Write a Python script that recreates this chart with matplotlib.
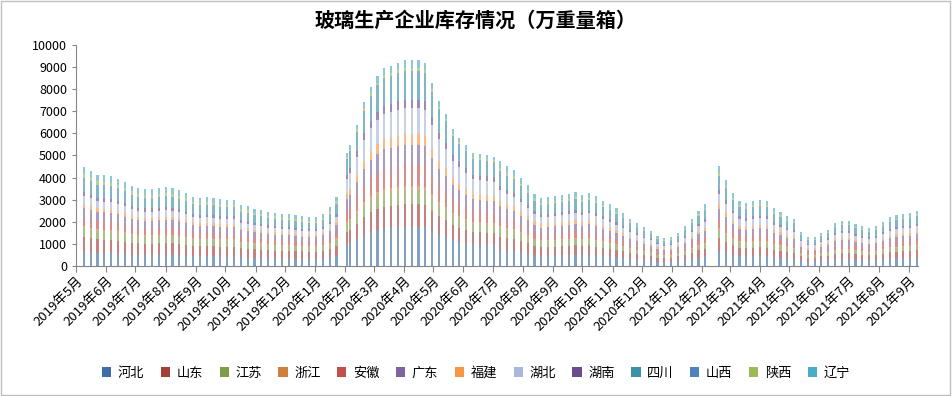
import numpy as np
import pandas as pd
import matplotlib
matplotlib.use("Agg")
import matplotlib.pyplot as plt
from matplotlib.patches import Patch, Rectangle

plt.rcParams['font.family'] = ['Noto Sans CJK SC', 'DejaVu Sans']

# weekly (Thursday) dates, holiday weeks missing, one extra reading after 2020 CNY
dates = pd.date_range('2019-05-09', '2021-09-09', freq='7D')
dates = dates.drop(pd.to_datetime(['2020-01-30', '2021-02-11']))
dates = dates.append(pd.DatetimeIndex(['2020-02-03'])).sort_values()

provinces = ['河北', '山东', '江苏', '浙江', '安徽', '广东', '福建',
             '湖北', '湖南', '四川', '山西', '陕西', '辽宁']
colors = ['#3E6DA8', '#A33E3B', '#7F9C47', '#D0803D', '#C0504D', '#8064A2', '#F79646',
          '#A9B8D8', '#6A4C8C', '#3A91A8', '#4F81BD', '#9BBB59', '#4BACC6']

hebei = [630, 600, 580, 570, 570, 550, 530, 510, 490, 490, 490, 490, 500, 490, 480, 460, 440, 430, 430, 430,
         420, 420, 420, 390, 380, 360, 360, 340, 340, 330, 330, 320, 320, 310, 310, 330, 370, 440,
         970, 1040, 1220, 1410, 1540, 1630, 1700, 1720, 1750, 1770, 1770, 1770, 1750, 1580, 1420, 1310, 1180, 1100,
         1040, 970, 960, 950, 940,
         710, 680, 650, 600, 550, 490, 460, 470, 470, 480, 490, 500, 480, 500, 470, 440, 420, 390, 360, 320,
         290, 260, 240, 200, 190, 200, 230, 270, 320, 380, 420,
         680, 590, 500, 440, 430, 440, 450, 440, 390, 370, 340, 320, 230, 200, 200, 230, 250, 290, 310, 310,
         290, 270, 260, 270, 300, 330, 350, 350, 360, 380]
shandong = [670, 650, 620, 620, 610, 590, 570, 540, 530, 520, 520, 530, 530, 530, 510, 490, 470, 460, 470, 460,
            450, 450, 450, 410, 410, 390, 380, 370, 360, 350, 350, 350, 340, 330, 330, 350, 400, 470,
            560, 600, 700, 810, 890, 950, 980, 1000, 1010, 1020, 1020, 1020, 1010, 910, 820, 760, 680, 640,
            600, 560, 560, 550, 540,
            620, 590, 570, 520, 470, 420, 400, 400, 410, 420, 420, 440, 420, 430, 410, 380, 360, 340, 310, 280,
            250, 230, 210, 180, 160, 170, 200, 230, 280, 330, 360,
            590, 510, 430, 380, 370, 380, 390, 380, 340, 320, 290, 280, 200, 170, 170, 200, 210, 250, 270, 270,
            250, 230, 220, 230, 260, 290, 300, 310, 310, 330]
jiangsu = [400, 390, 370, 370, 360, 360, 340, 330, 320, 310, 310, 320, 320, 320, 310, 300, 280, 280, 280, 280,
           270, 270, 270, 250, 240, 230, 230, 220, 220, 210, 210, 210, 200, 200, 200, 210, 240, 280,
           360, 380, 450, 520, 570, 600, 630, 630, 640, 650, 650, 650, 640, 580, 520, 480, 430, 410,
           380, 360, 350, 350, 350,
           380, 360, 350, 320, 290, 260, 240, 250, 250, 260, 260, 270, 260, 260, 250, 240, 220, 210, 190, 170,
           160, 140, 130, 110, 100, 100, 120, 140, 170, 200, 220,
           360, 310, 260, 240, 230, 240, 240, 240, 210, 200, 180, 170, 120, 100, 100, 120, 130, 160, 160, 160,
           150, 140, 140, 140, 160, 180, 180, 190, 190, 200]
zhejiang = [90, 86, 83, 82, 81, 79, 76, 72, 70, 69, 69, 70, 71, 70, 68, 66, 63, 62, 62, 62,
            60, 60, 60, 55, 54, 52, 51, 49, 48, 47, 47, 46, 45, 44, 44, 47, 53, 63,
            102, 109, 128, 148, 162, 172, 179, 181, 184, 186, 186, 186, 184, 166, 149, 138, 124, 116,
            109, 102, 101, 100, 99,
            95, 90, 87, 80, 73, 65, 61, 62, 63, 64, 65, 67, 64, 66, 63, 59, 56, 52, 48, 43,
            39, 35, 32, 27, 25, 26, 30, 36, 43, 50, 56,
            91, 78, 66, 59, 57, 59, 60, 59, 52, 49, 45, 43, 31, 26, 26, 30, 33, 39, 41, 41,
            38, 36, 34, 36, 40, 44, 46, 47, 48, 50]
anhui = [403, 387, 372, 369, 365, 356, 342, 326, 317, 312, 312, 317, 320, 317, 308, 295, 282, 277, 279, 277,
         272, 268, 270, 248, 243, 234, 230, 221, 216, 212, 212, 207, 203, 198, 198, 212, 239, 284,
         510, 545, 640, 740, 810, 860, 895, 905, 920, 930, 930, 930, 920, 830, 745, 690, 620, 580,
         545, 510, 505, 500, 495,
         428, 405, 392, 360, 329, 293, 275, 279, 284, 288, 293, 302, 288, 297, 284, 266, 252, 234, 216, 194,
         176, 158, 144, 122, 113, 117, 135, 162, 194, 225, 252,
         410, 351, 297, 266, 257, 266, 270, 266, 234, 221, 203, 194, 140, 117, 117, 135, 149, 176, 185, 185,
         171, 162, 153, 162, 180, 198, 207, 212, 216, 225]
guangdong = [448, 430, 413, 410, 405, 395, 380, 362, 352, 347, 347, 352, 355, 352, 342, 328, 313, 308, 310, 308,
             302, 298, 300, 275, 270, 260, 255, 245, 240, 235, 235, 230, 225, 220, 220, 235, 265, 315,
             510, 545, 640, 740, 810, 860, 895, 905, 920, 930, 930, 930, 920, 830, 745, 690, 620, 580,
             545, 510, 505, 500, 495,
             475, 450, 435, 400, 365, 325, 305, 310, 315, 320, 325, 335, 320, 330, 315, 295, 280, 260, 240, 215,
             195, 175, 160, 135, 125, 130, 150, 180, 215, 250, 280,
             455, 390, 330, 295, 285, 295, 300, 295, 260, 245, 225, 215, 155, 130, 130, 150, 165, 195, 205, 205,
             190, 180, 170, 180, 200, 220, 230, 235, 240, 250]
fujian = [179, 172, 165, 164, 162, 158, 152, 145, 141, 139, 139, 141, 142, 141, 137, 131, 125, 123, 124, 123,
          121, 119, 120, 110, 108, 104, 102, 98, 96, 94, 94, 92, 90, 88, 88, 94, 106, 126,
          255, 273, 320, 370, 405, 430, 448, 453, 460, 465, 465, 465, 460, 415, 373, 345, 310, 290,
          273, 255, 253, 250, 248,
          238, 225, 218, 200, 183, 163, 153, 155, 158, 160, 163, 168, 160, 165, 158, 148, 140, 130, 120, 108,
          98, 88, 80, 68, 63, 65, 75, 90, 108, 125, 140,
          228, 195, 165, 148, 143, 148, 150, 148, 130, 123, 113, 108, 78, 65, 65, 75, 83, 98, 103, 103,
          95, 90, 85, 90, 100, 110, 115, 118, 120, 125]
hubei = [358, 344, 330, 328, 324, 316, 304, 290, 282, 278, 278, 282, 284, 282, 274, 262, 250, 246, 248, 246,
         242, 238, 240, 220, 216, 208, 204, 196, 192, 188, 188, 184, 180, 176, 176, 188, 212, 252,
         663, 709, 832, 962, 1053, 1118, 1164, 1177, 1196, 1209, 1209, 1209, 1196, 1079, 969, 897, 806, 754,
         709, 663, 657, 650, 644,
         475, 450, 435, 400, 365, 325, 305, 310, 315, 320, 325, 335, 320, 330, 315, 295, 280, 260, 240, 215,
         195, 175, 160, 135, 125, 130, 150, 180, 215, 250, 280,
         455, 390, 330, 295, 285, 295, 300, 295, 260, 245, 225, 215, 155, 130, 130, 150, 165, 195, 205, 205,
         190, 180, 170, 180, 200, 220, 230, 235, 240, 250]
hunan = [179, 172, 165, 164, 162, 158, 152, 145, 141, 139, 139, 141, 142, 141, 137, 131, 125, 123, 124, 123,
         121, 119, 120, 110, 108, 104, 102, 98, 96, 94, 94, 92, 90, 88, 88, 94, 106, 126,
         204, 218, 256, 296, 324, 344, 358, 362, 368, 372, 372, 372, 368, 332, 298, 276, 248, 232,
         218, 204, 202, 200, 198,
         190, 180, 174, 160, 146, 130, 122, 124, 126, 128, 130, 134, 128, 132, 126, 118, 112, 104, 96, 86,
         78, 70, 64, 54, 50, 52, 60, 72, 86, 100, 112,
         182, 156, 132, 118, 114, 118, 120, 118, 104, 98, 90, 86, 62, 52, 52, 60, 66, 78, 82, 82,
         76, 72, 68, 72, 80, 88, 92, 94, 96, 100]
sichuan = [538, 516, 496, 492, 486, 474, 456, 434, 422, 416, 416, 422, 426, 422, 410, 394, 376, 370, 372, 370,
           362, 358, 360, 330, 324, 312, 306, 294, 288, 282, 282, 276, 270, 264, 264, 282, 318, 378,
           663, 709, 832, 962, 1053, 1118, 1164, 1177, 1196, 1209, 1209, 1209, 1196, 1079, 969, 897, 806, 754,
           709, 663, 657, 650, 644,
           570, 540, 522, 480, 438, 390, 366, 372, 378, 384, 390, 402, 384, 396, 378, 354, 336, 312, 288, 258,
           234, 210, 192, 162, 150, 156, 180, 216, 258, 300, 336,
           546, 468, 396, 354, 342, 354, 360, 354, 312, 294, 270, 258, 186, 156, 156, 180, 198, 234, 246, 246,
           228, 216, 204, 216, 240, 264, 276, 282, 288, 300]
shanxi = [90, 86, 83, 82, 81, 79, 76, 72, 70, 69, 69, 70, 71, 70, 68, 66, 63, 62, 62, 62,
          60, 60, 60, 55, 54, 52, 51, 49, 48, 47, 47, 46, 45, 44, 44, 47, 53, 63,
          51, 55, 64, 74, 81, 86, 90, 91, 92, 93, 93, 93, 92, 83, 75, 69, 62, 58,
          55, 51, 51, 50, 50,
          95, 90, 87, 80, 73, 65, 61, 62, 63, 64, 65, 67, 64, 66, 63, 59, 56, 52, 48, 43,
          39, 35, 32, 27, 25, 26, 30, 36, 43, 50, 56,
          91, 78, 66, 59, 57, 59, 60, 59, 52, 49, 45, 43, 31, 26, 26, 30, 33, 39, 41, 41,
          38, 36, 34, 36, 40, 44, 46, 47, 48, 50]
shaanxi = [179, 172, 165, 164, 162, 158, 152, 145, 141, 139, 139, 141, 142, 141, 137, 131, 125, 123, 124, 123,
           121, 119, 120, 110, 108, 104, 102, 98, 96, 94, 94, 92, 90, 88, 88, 94, 106, 126,
           77, 82, 96, 111, 122, 129, 134, 136, 138, 140, 140, 140, 138, 125, 112, 104, 93, 87,
           82, 77, 76, 75, 74,
           143, 135, 131, 120, 110, 98, 92, 93, 95, 96, 98, 101, 96, 99, 95, 89, 84, 78, 72, 65,
           59, 53, 48, 41, 38, 39, 45, 54, 65, 75, 84,
           137, 117, 99, 89, 86, 89, 90, 89, 78, 74, 68, 65, 47, 39, 39, 45, 50, 59, 62, 62,
           57, 54, 51, 54, 60, 66, 69, 71, 72, 75]
liaoning = [314, 301, 289, 287, 284, 277, 266, 253, 246, 243, 243, 246, 249, 246, 239, 230, 219, 216, 217, 216,
            211, 209, 210, 193, 189, 182, 179, 172, 168, 165, 165, 161, 158, 154, 154, 165, 186, 221,
            179, 191, 224, 259, 284, 301, 313, 317, 322, 326, 326, 326, 322, 291, 261, 242, 217, 203,
            191, 179, 177, 175, 173,
            333, 315, 305, 280, 256, 228, 214, 217, 221, 224, 228, 235, 224, 231, 221, 207, 196, 182, 168, 151,
            137, 123, 112, 95, 88, 91, 105, 126, 151, 175, 196,
            319, 273, 231, 207, 200, 207, 210, 207, 182, 172, 158, 151, 109, 91, 91, 105, 116, 137, 144, 144,
            133, 126, 119, 126, 140, 154, 161, 165, 168, 175]

series = [hebei, shandong, jiangsu, zhejiang, anhui, guangdong, fujian,
          hubei, hunan, sichuan, shanxi, shaanxi, liaoning]

fig = plt.figure(figsize=(9.52, 3.96), dpi=100)
ax = fig.add_axes([0.0798, 0.3283, 0.8845, 0.5581])

bottom = np.zeros(len(dates))
for name, vals, c in zip(provinces, series, colors):
    vals = np.array(vals, dtype=float)
    ax.bar(dates, vals, width=2.2, bottom=bottom, color=c, alpha=0.65, linewidth=0)
    bottom += vals

ax.set_ylim(0, 10000)
ax.set_yticks(np.arange(0, 10001, 1000))
ax.set_xlim(pd.Timestamp('2019-05-01'), pd.Timestamp('2021-09-10'))
months = pd.date_range('2019-05-01', '2021-09-01', freq='MS')
ax.set_xticks(months)
ax.set_xticklabels([f'{d.year}年{d.month}月' for d in months], rotation=45,
                   ha='right', rotation_mode='anchor', fontsize=9.5)
ax.tick_params(axis='y', labelsize=9, length=3, color='#868686')
ax.tick_params(axis='x', length=4, color='#868686', pad=2)
for s in ['top', 'right']:
    ax.spines[s].set_visible(False)
for s in ['left', 'bottom']:
    ax.spines[s].set_color('#868686')

fig.text(0.5, 1 - 20 / 396, '玻璃生产企业库存情况（万重量箱）', ha='center', va='center',
         fontsize=14.5, fontweight='bold')

handles = [Patch(facecolor=c, edgecolor='none') for c in colors]
fig.legend(handles, provinces, loc='center', bbox_to_anchor=(0.5, 0.058), ncol=13,
           frameon=False, fontsize=9.5, handlelength=0.7, handleheight=0.7,
           handletextpad=0.5, columnspacing=1.25)

fig.patches.append(Rectangle((0.001, 0.002), 0.997, 0.995, transform=fig.transFigure,
                             fill=False, edgecolor='#bfbfbf', linewidth=1))

fig.savefig('out.png', dpi=100)
